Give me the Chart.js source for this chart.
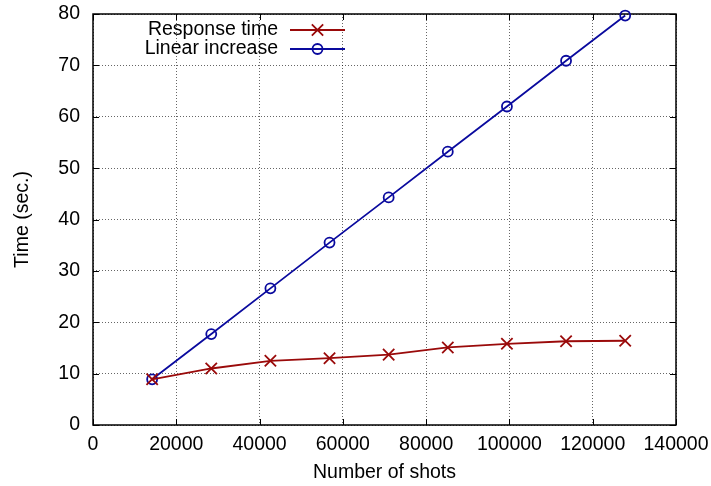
<!DOCTYPE html>
<html>
<head>
<meta charset="utf-8">
<title>Response time vs number of shots</title>
<script src="https://cdn.jsdelivr.net/npm/chart.js@4/dist/chart.umd.min.js"></script>
<style>
  html, body { margin: 0; padding: 0; background: #fff; }
  #chart { display: block; }
</style>
</head>
<body>
<canvas id="chart" width="711" height="486"></canvas>
<script>
// Data
const shots = [14200, 28400, 42600, 56800, 71000, 85200, 99400, 113600, 127800];
const responseTime = [8.9, 11.0, 12.5, 13.0, 13.7, 15.1, 15.8, 16.3, 16.4];
const linearIncrease = [8.9, 17.7, 26.6, 35.5, 44.3, 53.2, 62.0, 70.9, 79.7];
const seriesLabels = ['Response time', 'Linear increase'];

const RED = '#9a0a0a';
const BLUE = '#0a0a9e';
const FONT = '"Liberation Sans", Arial, sans-serif';

function toPoints(xs, ys) {
  return xs.map((x, i) => ({ x: x, y: ys[i] }));
}

// Box around the plot area with gnuplot style inward ticks on every side
const boxPlugin = {
  id: 'box',
  beforeDatasetsDraw(chart) {
    const { ctx, chartArea: a, scales } = chart;
    const tick = 6;
    ctx.save();
    ctx.strokeStyle = '#000';
    ctx.lineWidth = 1;
    ctx.beginPath();
    scales.x.ticks.forEach(t => {
      const px = Math.round(scales.x.getPixelForValue(t.value)) + 0.5;
      ctx.moveTo(px, a.bottom); ctx.lineTo(px, a.bottom - tick);
      ctx.moveTo(px, a.top); ctx.lineTo(px, a.top + tick);
    });
    scales.y.ticks.forEach(t => {
      const py = Math.round(scales.y.getPixelForValue(t.value)) + 0.5;
      ctx.moveTo(a.left, py); ctx.lineTo(a.left + tick, py);
      ctx.moveTo(a.right, py); ctx.lineTo(a.right - tick, py);
    });
    ctx.stroke();
    ctx.lineWidth = 1.5;
    ctx.strokeRect(a.left, a.top, a.right - a.left, a.bottom - a.top);
    ctx.restore();
  }
};

// Legend drawn like gnuplot: label right aligned, then sample line with marker
const keyPlugin = {
  id: 'key',
  afterDatasetsDraw(chart) {
    const { ctx } = chart;
    const textRight = 278, lineStart = 290, lineEnd = 345, top = 30, rowH = 19;
    ctx.save();
    ctx.font = '19.5px ' + FONT;
    ctx.textAlign = 'right';
    ctx.textBaseline = 'middle';
    chart.data.datasets.forEach((ds, i) => {
      const y = top + i * rowH;
      ctx.fillStyle = '#000';
      ctx.fillText(ds.label, textRight, y);
      ctx.strokeStyle = ds.borderColor;
      ctx.lineWidth = ds.borderWidth;
      ctx.beginPath();
      ctx.moveTo(lineStart, y); ctx.lineTo(lineEnd, y);
      ctx.stroke();
      ctx.fillStyle = 'rgba(0,0,0,0)';
      ctx.lineWidth = ds.pointBorderWidth;
      Chart.helpers.drawPoint(ctx, {
        pointStyle: ds.pointStyle,
        radius: ds.pointRadius,
        borderWidth: ds.pointBorderWidth,
        rotation: 0
      }, (lineStart + lineEnd) / 2, y);
    });
    ctx.restore();
  }
};

// Keep the plot area exactly where the reference has it
function noXPad(s) { s.height = 61; s.paddingLeft = 0; s.paddingRight = 0; }
function noYPad(s) { s.width = 93; s.paddingTop = 0; s.paddingBottom = 0; }
const plainNumber = v => String(v);

Chart.defaults.font.family = FONT;
Chart.defaults.font.size = 19.5;
Chart.defaults.color = '#000';

new Chart(document.getElementById('chart').getContext('2d'), {
  type: 'line',
  data: {
    datasets: [
      {
        label: seriesLabels[0],
        data: toPoints(shots, responseTime),
        borderColor: RED,
        backgroundColor: 'rgba(0,0,0,0)',
        borderWidth: 1.8,
        pointStyle: 'crossRot',
        pointRadius: 8,
        pointBorderWidth: 1.8,
        pointBorderColor: RED,
        pointBackgroundColor: 'rgba(0,0,0,0)',
        tension: 0
      },
      {
        label: seriesLabels[1],
        data: toPoints(shots, linearIncrease),
        borderColor: BLUE,
        backgroundColor: 'rgba(0,0,0,0)',
        borderWidth: 1.8,
        pointStyle: 'circle',
        pointRadius: 5,
        pointBorderWidth: 1.8,
        pointBorderColor: BLUE,
        pointBackgroundColor: 'rgba(0,0,0,0)',
        tension: 0
      }
    ]
  },
  options: {
    responsive: false,
    animation: false,
    clip: false,
    layout: { padding: { top: 14, right: 35, left: 0, bottom: 0 } },
    plugins: {
      legend: { display: false },
      tooltip: { enabled: false }
    },
    scales: {
      x: {
        type: 'linear',
        min: 0,
        max: 140000,
        afterFit: noXPad,
        ticks: { stepSize: 20000, padding: 8, maxRotation: 0, autoSkip: false, callback: plainNumber },
        grid: { color: 'rgba(0,0,0,0.6)', lineWidth: 1, drawTicks: false },
        border: { display: false, dash: [1, 2] },
        title: { display: true, text: 'Number of shots', padding: { top: 0, bottom: 2 } }
      },
      y: {
        min: 0,
        max: 80,
        afterFit: noYPad,
        ticks: { stepSize: 10, padding: 13, callback: plainNumber },
        grid: { color: 'rgba(0,0,0,0.6)', lineWidth: 1, drawTicks: false },
        border: { display: false, dash: [1, 2] },
        title: { display: true, text: 'Time (sec.)', padding: { top: 11, bottom: 0 } }
      }
    }
  },
  plugins: [boxPlugin, keyPlugin]
});
</script>
</body>
</html>
